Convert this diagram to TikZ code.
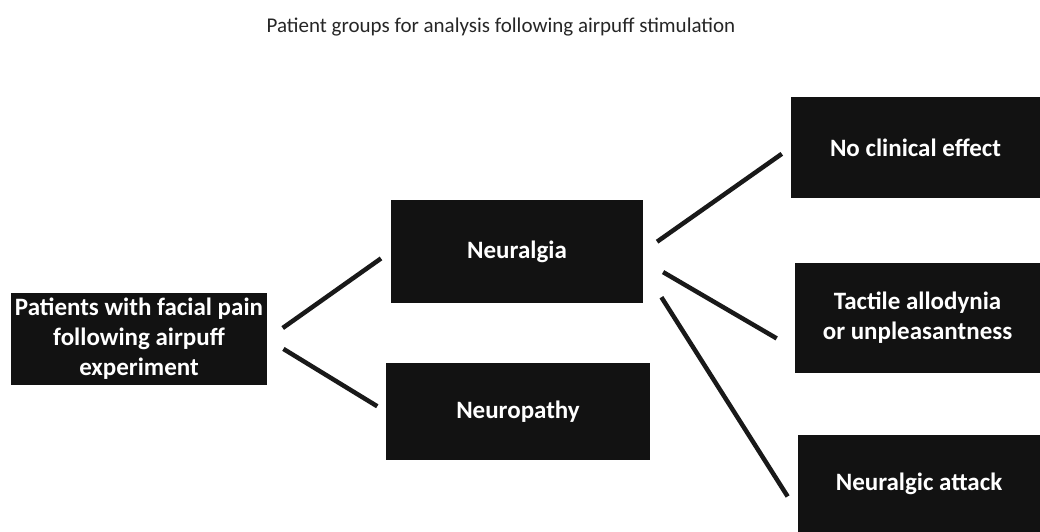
\documentclass[tikz,border=0pt]{standalone}
\usepackage{fontspec}
\setmainfont{Carlito}
\usepackage{tikz}
\usetikzlibrary{positioning}

\begin{document}
\begin{tikzpicture}[
  x=1pt, y=-1pt,
  caixa/.style={fill=black!93, text=white, align=center, inner sep=2pt,
                font=\fontsize{25}{30}\selectfont\bfseries},
  ramo/.style={line width=4.5pt, black!90},
]
\useasboundingbox (0,0) rectangle (1040,532);

% ---- Titulo ---------------------------------------------------------------
\node[font=\fontsize{21}{25}\selectfont, text=black!85] (titulo) at (501,27)
      {Patient groups for analysis following airpuff stimulation};

% ---- Caixas ---------------------------------------------------------------
\node[caixa, minimum width=256pt, minimum height=92pt] (pacientes) at (139,339)
      {Patients with facial pain\\following airpuff\\experiment};
\node[caixa, minimum width=252pt, minimum height=103pt] (neuralgia) at (517,251.5)
      {Neuralgia};
\node[caixa, minimum width=264pt, minimum height=97pt] (neuropatia) at (518,411.5)
      {Neuropathy};
\node[caixa, minimum width=249pt, minimum height=101pt] (semefeito) at (915.5,147.5)
      {No clinical effect};
\node[caixa, minimum width=245pt, minimum height=110pt] (alodinia) at (917.5,318)
      {Tactile allodynia\\or unpleasantness};
\node[caixa, minimum width=242pt, minimum height=97pt] (ataque) at (919,483.5)
      {Neuralgic attack};

% ---- Ramos ----------------------------------------------------------------
\draw[ramo, shorten <=19pt, shorten >=12pt] (pacientes.east) -- (neuralgia.west);
\draw[ramo, shorten <=19pt, shorten >=10pt] (pacientes.east) -- (neuropatia.west);
\draw[ramo, shorten <=17pt, shorten >=11pt] (neuralgia.east) -- (semefeito.west);
\draw[ramo, shorten <=23pt, shorten >=21pt]
      ([yshift=-9pt]neuralgia.east) -- ([yshift=-31pt]alodinia.west);
\draw[ramo, shorten <=34pt, shorten >=19pt]
      ([yshift=-17pt]neuralgia.east) -- ([yshift=-29pt]ataque.west);

\end{tikzpicture}
\end{document}
